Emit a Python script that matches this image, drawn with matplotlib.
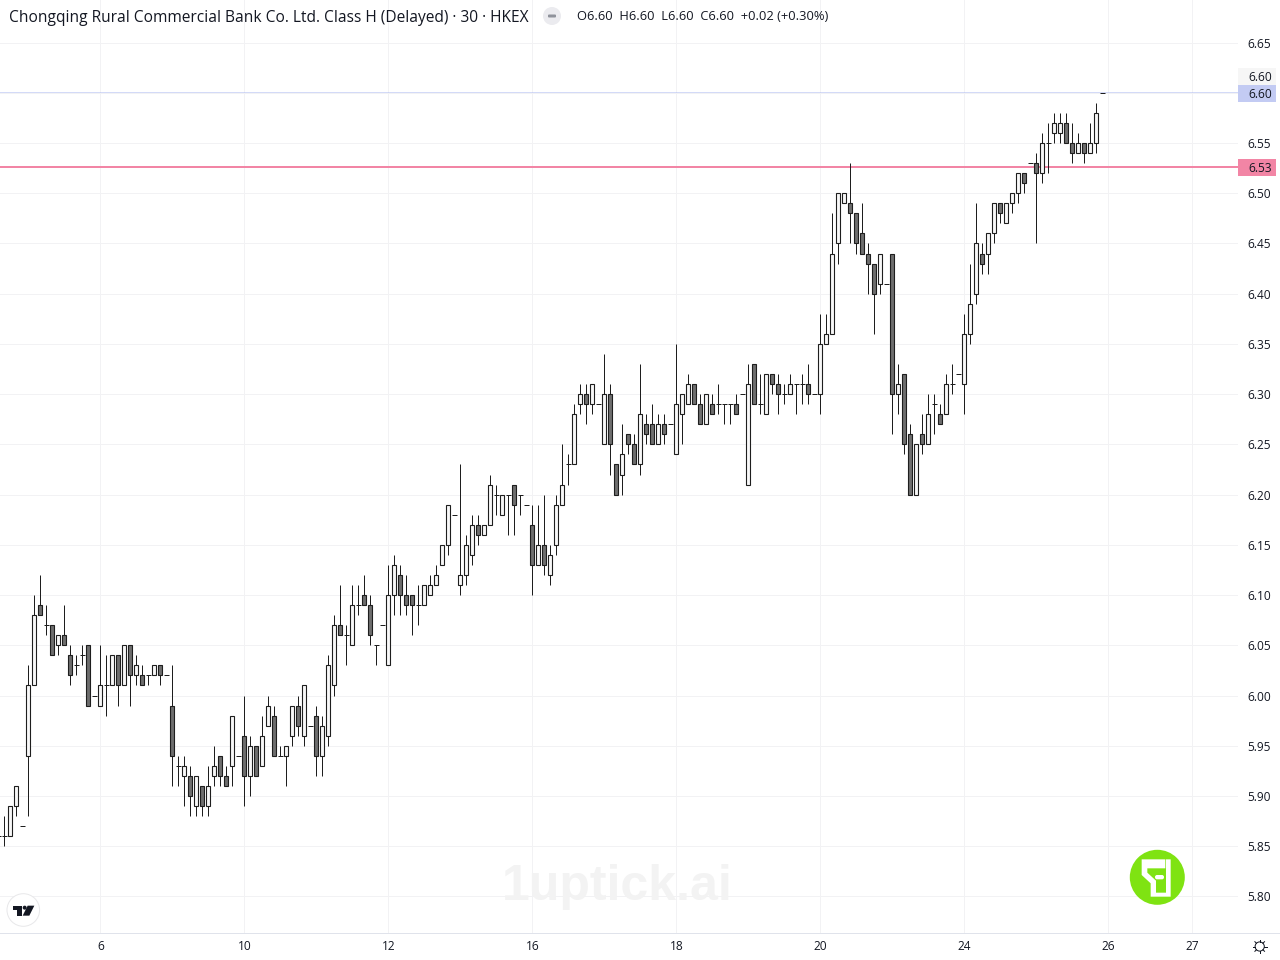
import numpy as np
import matplotlib
matplotlib.use('Agg')
import matplotlib.pyplot as plt
from matplotlib.patches import Circle, Polygon, FancyBboxPatch, Rectangle

plt.rcParams['font.family'] = ['Open Sans', 'DejaVu Sans']

# candles, first one sits just off the left edge
opens = [5.86,5.86,5.86,5.89,5.87,5.94,6.01,6.09,6.07,6.07,
         6.05,6.06,6.04,6.03,6.04,6.05,6.00,5.99,6.01,6.01,
         6.04,6.01,6.05,6.02,6.02,6.02,6.02,6.03,6.02,5.99,
         5.93,5.92,5.92,5.89,5.91,5.89,5.92,5.94,5.92,5.93,
         5.94,5.96,5.92,5.95,5.93,5.97,5.98,5.94,5.94,5.96,
         5.99,5.96,5.97,5.98,5.94,5.96,6.01,6.07,6.06,6.05,
         6.09,6.10,6.09,6.05,6.07,6.03,6.10,6.12,6.10,6.10,
         6.09,6.09,6.10,6.11,6.13,6.15,6.18,6.11,6.12,6.14,
         6.17,6.16,6.17,6.20,6.18,6.20,6.21,6.20,6.19,6.17,
         6.13,6.15,6.12,6.15,6.19,6.23,6.23,6.29,6.30,6.29,
         6.29,6.25,6.30,6.23,6.22,6.26,6.25,6.23,6.27,6.27,
         6.25,6.27,6.27,6.24,6.28,6.29,6.31,6.29,6.27,6.29,
         6.29,6.29,6.29,6.29,6.30,6.21,6.33,6.29,6.28,6.32,
         6.31,6.30,6.30,6.31,6.31,6.31,6.30,6.30,6.35,6.36,
         6.45,6.49,6.49,6.48,6.46,6.44,6.43,6.41,6.41,6.44,
         6.30,6.32,6.26,6.20,6.26,6.25,6.29,6.28,6.28,6.31,
         6.32,6.31,6.36,6.40,6.44,6.44,6.46,6.49,6.47,6.49,
         6.50,6.52,6.53,6.53,6.52,6.55,6.56,6.56,6.57,6.55,
         6.54,6.55,6.54,6.55,6.60]
highs = [5.86,5.88,5.89,5.91,5.87,6.03,6.10,6.12,6.09,6.07,
         6.06,6.09,6.05,6.04,6.05,6.05,6.00,6.05,6.04,6.04,
         6.04,6.05,6.05,6.04,6.03,6.02,6.03,6.03,6.02,6.03,
         5.94,5.94,5.93,5.92,5.91,5.93,5.95,5.94,5.93,5.98,
         5.94,6.00,5.96,5.95,5.98,6.00,5.99,5.95,5.95,5.99,
         6.00,6.01,5.97,5.99,5.98,6.04,6.08,6.11,6.07,6.11,
         6.11,6.12,6.10,6.05,6.07,6.13,6.14,6.13,6.12,6.10,
         6.11,6.11,6.12,6.13,6.15,6.19,6.18,6.23,6.16,6.18,
         6.18,6.17,6.22,6.21,6.20,6.20,6.21,6.20,6.19,6.19,
         6.19,6.20,6.15,6.20,6.25,6.24,6.29,6.31,6.31,6.31,
         6.29,6.34,6.31,6.23,6.27,6.26,6.26,6.33,6.28,6.29,
         6.28,6.28,6.27,6.35,6.30,6.32,6.31,6.30,6.30,6.30,
         6.31,6.29,6.29,6.30,6.30,6.33,6.33,6.32,6.32,6.32,
         6.32,6.31,6.32,6.31,6.32,6.33,6.30,6.38,6.38,6.48,
         6.50,6.50,6.53,6.48,6.49,6.45,6.43,6.44,6.41,6.44,
         6.33,6.32,6.27,6.25,6.28,6.30,6.30,6.29,6.32,6.33,
         6.32,6.38,6.43,6.49,6.45,6.46,6.49,6.49,6.49,6.50,
         6.52,6.52,6.53,6.54,6.56,6.57,6.58,6.58,6.58,6.57,
         6.56,6.55,6.57,6.59,6.60]
lows = [5.86,5.85,5.86,5.88,5.87,5.88,6.01,6.08,6.06,6.04,
        6.04,6.05,6.01,6.02,6.03,5.99,6.00,5.99,5.98,6.01,
        5.99,6.01,5.99,6.01,6.01,6.01,6.02,6.01,6.02,5.91,
        5.91,5.89,5.88,5.88,5.88,5.88,5.91,5.91,5.91,5.91,
        5.94,5.89,5.90,5.92,5.93,5.97,5.94,5.94,5.91,5.95,
        5.96,5.95,5.97,5.92,5.92,5.95,6.00,6.06,6.03,6.05,
        6.08,6.09,6.05,6.03,6.07,6.03,6.08,6.08,6.08,6.06,
        6.07,6.09,6.10,6.11,6.13,6.14,6.18,6.10,6.11,6.13,
        6.15,6.16,6.17,6.18,6.18,6.16,6.16,6.18,6.19,6.10,
        6.13,6.12,6.11,6.14,6.19,6.21,6.23,6.28,6.27,6.28,
        6.29,6.25,6.22,6.20,6.20,6.24,6.23,6.22,6.25,6.25,
        6.25,6.25,6.27,6.24,6.25,6.29,6.29,6.27,6.27,6.28,
        6.28,6.27,6.27,6.28,6.30,6.21,6.29,6.28,6.28,6.30,
        6.28,6.29,6.30,6.28,6.29,6.29,6.30,6.28,6.35,6.36,
        6.43,6.49,6.45,6.44,6.44,6.40,6.36,6.40,6.41,6.26,
        6.28,6.24,6.20,6.20,6.24,6.25,6.26,6.27,6.28,6.30,
        6.32,6.28,6.35,6.39,6.42,6.42,6.45,6.47,6.47,6.48,
        6.49,6.50,6.53,6.45,6.51,6.52,6.55,6.55,6.55,6.53,
        6.54,6.53,6.54,6.54,6.60]
closes = [5.86,5.86,5.89,5.91,5.87,6.01,6.08,6.08,6.07,6.04,
          6.06,6.05,6.02,6.03,6.04,5.99,6.00,6.01,6.01,6.04,
          6.01,6.05,6.02,6.03,6.01,6.02,6.03,6.02,6.02,5.94,
          5.93,5.93,5.90,5.92,5.89,5.91,5.93,5.92,5.91,5.98,
          5.94,5.92,5.95,5.92,5.96,5.99,5.94,5.94,5.95,5.99,
          5.97,6.01,5.97,5.94,5.97,6.03,6.07,6.06,6.06,6.09,
          6.09,6.09,6.06,6.05,6.07,6.10,6.13,6.10,6.09,6.09,
          6.09,6.11,6.11,6.12,6.15,6.19,6.18,6.12,6.15,6.17,
          6.16,6.17,6.21,6.20,6.20,6.20,6.19,6.20,6.19,6.13,
          6.15,6.13,6.14,6.19,6.21,6.23,6.28,6.30,6.29,6.31,
          6.29,6.30,6.25,6.20,6.24,6.25,6.23,6.28,6.26,6.25,
          6.27,6.26,6.27,6.29,6.30,6.31,6.29,6.27,6.30,6.28,
          6.29,6.29,6.29,6.28,6.30,6.31,6.29,6.29,6.32,6.31,
          6.30,6.30,6.31,6.31,6.31,6.30,6.30,6.35,6.36,6.44,
          6.50,6.50,6.48,6.45,6.44,6.43,6.40,6.44,6.41,6.30,
          6.31,6.25,6.20,6.25,6.25,6.28,6.29,6.27,6.31,6.31,
          6.32,6.36,6.39,6.45,6.43,6.46,6.49,6.48,6.49,6.50,
          6.52,6.51,6.53,6.52,6.55,6.55,6.57,6.57,6.55,6.54,
          6.55,6.54,6.55,6.58,6.60]

price_ticks = [5.80,5.85,5.90,5.95,6.00,6.05,6.10,6.15,6.20,6.25,6.30,6.35,6.40,6.45,6.50,6.55,6.60,6.65]
time_ticks = [16,40,64,88,112,136,160,184,198]
time_labels = ['6','10','12','16','18','20','24','26','27']
last_price = 6.601
pink_price = 6.526

TITLE = 'Chongqing Rural Commercial Bank Co. Ltd. Class H (Delayed) · 30 · HKEX'
OHLC = 'O6.60  H6.60  L6.60  C6.60  +0.02 (+0.30%)'
INK = '#131722'
GRID = '#f2f2f4'
WICK = '#1e1e1e'

W, H = 1280, 960
PX = 72 / 100  # one pixel in points

fig = plt.figure(figsize=(W / 100, H / 100), dpi=100, facecolor='white')
ax = fig.add_axes([0, (H - 932.5) / H, 1238 / W, 932.5 / H])
ax.set_xlim((0 - 4.33) / 6, (1238 - 4.33) / 6)
ax.set_ylim(5.80 - (932.5 - 896.4) / 1004.7, 6.65 + 42.6 / 1004.7)

for s in ax.spines.values():
    s.set_visible(False)
ax.spines['bottom'].set_visible(True)
ax.spines['bottom'].set_color('#e0e3eb')
ax.spines['bottom'].set_linewidth(PX)

ax.yaxis.tick_right()
ax.set_yticks(price_ticks, ['%.2f' % p for p in price_ticks])
ax.set_xticks(time_ticks, time_labels)
ax.tick_params(axis='y', length=0, pad=9 * PX, labelsize=8.6, labelcolor=INK)
ax.tick_params(axis='x', length=0, pad=5.3, labelsize=8.6, labelcolor=INK)
ax.grid(True, color=GRID, linewidth=PX)
ax.set_axisbelow(True)

ax.axhline(pink_price, color='#f285a5', linewidth=2 * PX, zorder=1.5)
ax.axhline(last_price, color='#a9b6f0', linewidth=PX, linestyle=(0, (1, 1)), zorder=1.5)

o = np.array(opens)
h = np.array(highs)
l = np.array(lows)
c = np.array(closes)
idx = np.arange(len(o)) - 1

ax.vlines(idx, l, h, color=WICK, linewidth=1.0 * PX, zorder=3)
flat = o == c
ax.hlines(c[flat], idx[flat] - 0.42, idx[flat] + 0.42, color=WICK, linewidth=PX, zorder=3)
up = c > o
down = c < o
ax.bar(idx[up], (c - o)[up], bottom=o[up], width=0.64, facecolor='#f8f8f8',
       edgecolor=WICK, linewidth=1.1 * PX, zorder=4)
ax.bar(idx[down], (o - c)[down], bottom=c[down], width=0.64, facecolor='#6e6e6e',
       edgecolor=WICK, linewidth=1.1 * PX, zorder=4)

# everything else is placed in screen pixels
ov = fig.add_axes([0, 0, 1, 1], facecolor='none')
ov.set_xlim(0, W)
ov.set_ylim(H, 0)
ov.axis('off')
ov.set_clip_on(False)

ov.plot([1239, 1280], [932.5, 932.5], color='#e0e3eb', linewidth=PX)

ov.text(9, 18, TITLE, fontsize=11.2, color=INK, va='center', ha='left')
ov.add_patch(Circle((552, 16), 9, facecolor='#ebebef', edgecolor='none'))
ov.add_patch(FancyBboxPatch((548, 14.5), 8, 3, boxstyle='round,pad=0,rounding_size=1',
                            facecolor='#8f929b', edgecolor='none'))
ov.text(577, 17, OHLC, fontsize=9.3, color=INK, va='center', ha='left')

# price tags on the axis
for top, bottom, col, txt in [(68.3, 85, '#f6f6f6', '6.60'),
                              (85, 101.7, '#c3cbf3', '6.60'),
                              (159, 175.7, '#f285a5', '6.53')]:
    ov.add_patch(Rectangle((1238, top), 38, bottom - top, facecolor=col, edgecolor='none'))
    ov.text(1248, (top + bottom) / 2 + 0.8, txt, fontsize=8.6, color=INK, ha='left', va='center')

ov.text(617.5, 900, '1uptick.ai', family='Liberation Sans', weight='bold', fontsize=36,
        color='#f3f3f3', ha='center', va='baseline')

# green logo
ov.add_patch(Circle((1157.3, 877.3), 27.5, facecolor='#7fe312', edgecolor='none'))
gx, gy = 1100, 840
glyph = [(125,58),(196,58),(196,85),(142,85),(142,98),(168,122),(168,158),(198,158),
         (198,58),(212,58),(212,170),(152,170),(152,130),(125,105)]
ov.add_patch(Polygon([(gx + a / 3, gy + b / 3) for a, b in glyph], closed=True,
                     facecolor='white', edgecolor='none'))
ov.add_patch(FancyBboxPatch((gx + 165 / 3, gy + 105 / 3), 27 / 3, 13 / 3,
                            boxstyle='round,pad=0,rounding_size=2',
                            facecolor='white', edgecolor='none'))

# tradingview badge
ov.add_patch(Circle((23.3, 910), 16.3, facecolor='white', edgecolor='#e8e8ea', linewidth=PX))
for pts in ([(38,167),(66,167),(66,197),(52,197),(52,179),(38,179)],
            [(83,167),(103,167),(88,197),(68,197)]):
    ov.add_patch(Polygon([(a / 3, 850 + b / 3) for a, b in pts], closed=True,
                         facecolor=INK, edgecolor='none'))
ov.add_patch(Circle((74 / 3, 850 + 173 / 3), 2, facecolor=INK, edgecolor='none'))

# settings gear
ov.add_patch(Circle((1259.7, 946.5), 4.6, facecolor='none', edgecolor=INK, linewidth=PX))
for ang in np.arange(0, 360, 45):
    r = np.radians(ang)
    ov.plot([1259.7 + 4.6 * np.cos(r), 1259.7 + 6.8 * np.cos(r)],
            [946.5 + 4.6 * np.sin(r), 946.5 + 6.8 * np.sin(r)], color=INK, linewidth=PX)

fig.savefig('out.png', dpi=100)
